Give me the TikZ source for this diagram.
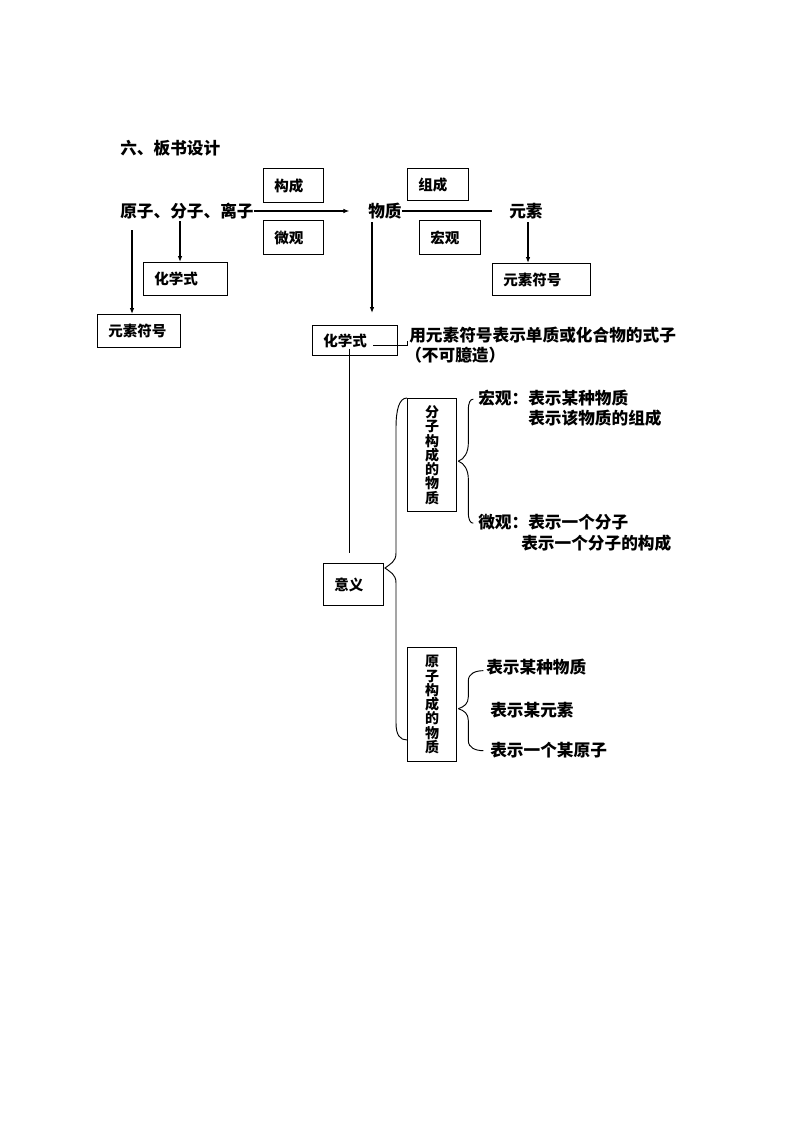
\documentclass[tikz,border=0pt]{standalone}
\usepackage{fontspec}
\setmainfont{Noto Sans CJK SC}
\usetikzlibrary{arrows.meta}
\begin{document}
\begin{tikzpicture}[x=0.75pt,y=-0.75pt,
  zi/.style={anchor=west,inner sep=0pt,font=\bfseries\fontsize{12.5}{15}\selectfont},
  kuang/.style={draw,line width=1pt,anchor=north west,inner xsep=8pt,inner ysep=0pt,align=left,font=\bfseries\fontsize{10.9}{13}\selectfont},
  shu/.style={draw,line width=1pt,anchor=north west,inner sep=0pt,minimum width=36.75pt,align=center,font=\bfseries\fontsize{10.5}{10.7}\selectfont},
  jian/.style={-{Latex[length=4.5pt,width=3.5pt]},line width=1.2pt},
  xian/.style={line width=0.7pt}]
\useasboundingbox (0,0) rectangle (794,1123);
% top row
\node[zi] (biaoti) at (120,148) {六、板书设计};
\node[zi] (lizi) at (120,211) {原子、分子、离子};
\node[zi] (wuzhi) at (368,211) {物质};
\node[zi] (yuansu) at (509,211) {元素};
\node[kuang,text width=29pt,minimum height=25.5pt] (goucheng) at (263,168) {构成};
\node[kuang,text width=29pt,minimum height=25.5pt] (weiguan) at (263,220) {微观};
\node[kuang,text width=29.75pt,minimum height=24pt] (zucheng) at (407,168) {组成};
\node[kuang,text width=29.75pt,minimum height=25.5pt] (hongguan) at (419,220) {宏观};
\node[kuang,text width=47pt,minimum height=24.75pt] (huaxue1) at (143,262) {化学式};
\node[kuang,text width=46.25pt,minimum height=24.75pt] (yuanfu1) at (97,314) {元素符号};
\node[kuang,text width=57.5pt,minimum height=24pt] (yuanfu2) at (492,263) {元素符号};
\node[kuang,text width=47.75pt,minimum height=22.5pt] (huaxue2) at (312,325) {化学式};
\node[zi] (dingyi) at (409,335) {用元素符号表示单质或化合物的式子};
\node[zi] (buke) at (405,355) {（不可臆造）};
% meaning
\node[kuang,text width=29pt,minimum height=31.5pt] (yiyi) at (323,563) {意义};
\node[shu,minimum height=84.75pt] (fenzi) at (407,398) {分\\子\\构\\成\\的\\物\\质};
\node[shu,minimum height=85.5pt] (yuanzi) at (407,647) {原\\子\\构\\成\\的\\物\\质};
\node[zi] (hong1) at (478,398) {宏观：表示某种物质};
\node[zi] (hong2) at (528,418) {表示该物质的组成};
\node[zi] (wei1) at (478,522) {微观：表示一个分子};
\node[zi] (wei2) at (521,543) {表示一个分子的构成};
\node[zi] (yz1) at (486,667) {表示某种物质};
\node[zi] (yz2) at (490,710) {表示某元素};
\node[zi] (yz3) at (490,750) {表示一个某原子};
% arrows
\draw[-{Latex[length=4.5pt,width=3.5pt]},line width=0.8pt] (lizi.east) -- ([xshift=-14pt]wuzhi.west);
\draw[line width=0.8pt] (wuzhi.east) -- ([xshift=-12.75pt]yuansu.west);
\draw[jian] ([shift={(12,11)}]lizi.south west) -- ([xshift=9pt]lizi.south west |- yuanfu1.north);
\draw[jian] ([shift={(60,2)}]lizi.south west) -- ([xshift=45pt]lizi.south west |- huaxue1.north);
\draw[jian] ([shift={(4,3)}]wuzhi.south west) -- ([shift={(4,-12)}]wuzhi.south west |- huaxue2.north);
\draw[jian] ([shift={(19,3)}]yuansu.south west) -- ([xshift=14.25pt]yuansu.south west |- yuanfu2.north);
\draw[xian] ([shift={(-25,5)}]huaxue2.east) -- ++(34,0) -- ++(0,-5);
\draw[xian] ([shift={(-6,8)}]huaxue2.center) -- ([shift={(-6,-10)}]huaxue2.center |- yiyi.north);
% braces
\draw[xian] (fenzi.north west) .. controls +(-8,0) and +(0,-18) .. ++(-11,30)
  -- ++(0,125) .. controls +(0,9) and +(5,-4) .. ++(-11,15)
  .. controls +(5,4) and +(0,-9) .. ++(11,15)
  -- ++(0,140) .. controls +(0,12) and +(-7,0) .. ++(11,17);
\draw[xian] ([shift={(1,6)}]fenzi.east) .. controls +(6,-2) and +(0,9) .. ++(10,-18) -- ++(0,-33) .. controls +(0,-8) and +(-3,0) .. ++(5,-11);
\draw[xian] ([shift={(1,6)}]fenzi.east) .. controls +(6,2) and +(0,-9) .. ++(10,18) -- ++(0,33) .. controls +(0,8) and +(-3,0) .. ++(5,11);
\draw[xian] ([shift={(1,4)}]yuanzi.east) .. controls +(6,-2) and +(0,7) .. ++(10,-12) -- ++(0,-16) .. controls +(0,-7) and +(-8,0) .. ++(15,-10);
\draw[xian] ([shift={(1,4)}]yuanzi.east) .. controls +(6,2) and +(0,-7) .. ++(10,12) -- ++(0,20) .. controls +(0,7) and +(-8,0) .. ++(15,10);
\end{tikzpicture}
\end{document}
